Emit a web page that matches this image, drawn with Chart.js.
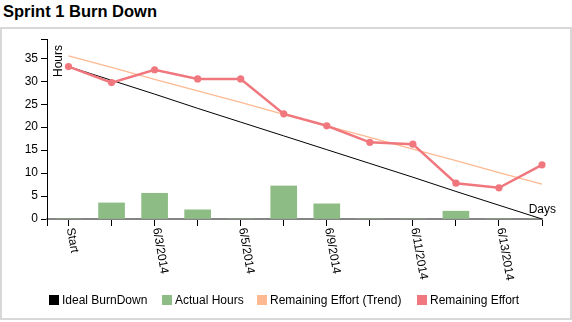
<!DOCTYPE html>
<html>
<head>
<meta charset="utf-8">
<script src="https://cdn.jsdelivr.net/npm/chart.js@4/dist/chart.umd.min.js"></script>
<style>
  body { margin: 0; background: #fff; font-family: "Liberation Sans", Arial, sans-serif; }
  #wrap { position: relative; width: 572px; height: 322px; overflow: hidden; }
  #title { position: absolute; left: 3px; top: 2px; font-size: 16.5px; font-weight: bold; color: #000; }
  #frame { position: absolute; left: 0; top: 27px; width: 572px; height: 293px; box-sizing: border-box; border: 2px solid #d8d8d8; }
  #chart { position: absolute; left: 0; top: 0; }
  #legend { position: absolute; left: 0; top: 0; width: 572px; height: 322px; pointer-events: none; }
  .item { position: absolute; top: 294px; font-size: 12px; line-height: 12px; white-space: nowrap; display: flex; align-items: center; }
  .item i { display: inline-block; width: 10px; height: 10px; margin-right: 3px; }
  .item:nth-child(1) { left: 49px; }
  .item:nth-child(2) { left: 162px; }
  .item:nth-child(3) { left: 257px; }
  .item:nth-child(4) { left: 417px; }
</style>
</head>
<body>
<div id="wrap">
  <div id="title">Sprint 1 Burn Down</div>
  <div id="frame"></div>
  <canvas id="chart" width="572" height="322"></canvas>
  <div id="legend"></div>
</div>
<script>
// 日付（カテゴリ）
const days = ['Start', '6/2/2014', '6/3/2014', '6/4/2014', '6/5/2014', '6/6/2014',
  '6/9/2014', '6/10/2014', '6/11/2014', '6/12/2014', '6/13/2014', '6/16/2014'];

// 各系列の値
const idealBurnDown = [33.2, 30.2, 27.2, 24.1, 21.1, 18.1, 15.1, 12.1, 9.1, 6.0, 3.0, 0];
const actualHours = [0, 3.5, 5.6, 2.0, 0, 7.2, 3.3, 0, 0, 1.7, 0, 0];
const remainingTrend = [35.5, 33.0, 30.4, 27.9, 25.4, 22.8, 20.3, 17.8, 15.2, 12.7, 10.1, 7.6];
const remainingEffort = [33.2, 29.7, 32.5, 30.5, 30.5, 22.9, 20.3, 16.7, 16.3, 7.8, 6.8, 11.8];

// 目盛り
const yTicks = [0, 5, 10, 15, 20, 25, 30, 35];
const yMax = 39.2;

const FONT = '"Liberation Sans", Arial, sans-serif';

function points(values) {
  return values.map((v, i) => ({ x: i, y: v }));
}

const datasets = [
  { type: 'line', label: 'Ideal BurnDown', data: points(idealBurnDown), borderColor: '#000000',
    backgroundColor: '#000000', borderWidth: 1, pointRadius: 0, order: 2, clip: false },
  { type: 'bar', label: 'Actual Hours', data: points(actualHours), backgroundColor: '#8dbc84',
    borderWidth: 0, barThickness: 26, order: 3 },
  { type: 'line', label: 'Remaining Effort (Trend)', data: points(remainingTrend), borderColor: '#fdb992',
    backgroundColor: '#fdb992', borderWidth: 1.3, pointRadius: 0, order: 1, clip: false },
  { type: 'line', label: 'Remaining Effort', data: points(remainingEffort), borderColor: '#ef777d',
    backgroundColor: '#ef777d', borderWidth: 2.5, pointRadius: 3.6, pointBorderWidth: 0, order: 0, clip: false },
];

// 凡例（HTML）
const legendEl = document.getElementById('legend');
datasets.forEach(ds => {
  const item = document.createElement('div');
  item.className = 'item';
  const box = document.createElement('i');
  box.style.background = ds.backgroundColor;
  item.appendChild(box);
  item.appendChild(document.createTextNode(ds.label));
  legendEl.appendChild(item);
});

// 回転したX軸ラベルと軸タイトル
const axisText = {
  id: 'axisText',
  afterDraw(chart) {
    const { ctx, scales: { x, y } } = chart;
    ctx.save();
    ctx.fillStyle = '#000';
    ctx.font = '12px ' + FONT;
    days.forEach((d, i) => {
      if (i % 2 !== 0) return;
      ctx.save();
      ctx.translate(x.getPixelForValue(i), y.getPixelForValue(0));
      ctx.rotate(80 * Math.PI / 180);
      ctx.textAlign = 'left';
      ctx.textBaseline = 'middle';
      ctx.fillText(d, 9, 0);
      ctx.restore();
    });
    // Days
    ctx.textAlign = 'right';
    ctx.textBaseline = 'alphabetic';
    ctx.fillText('Days', 556, y.getPixelForValue(0) - 6);
    // Hours
    ctx.save();
    ctx.translate(61.5, 45);
    ctx.rotate(-Math.PI / 2);
    ctx.textAlign = 'right';
    ctx.fillText('Hours', 0, 0);
    ctx.restore();
    ctx.restore();
  }
};

const ctx = document.getElementById('chart').getContext('2d');
const chart = new Chart(ctx, {
  type: 'line',
  data: { datasets: datasets },
  plugins: [axisText],
  options: {
    responsive: false,
    animation: false,
    events: [],
    layout: { padding: { left: 0, right: 30, top: 39, bottom: 83 } },
    plugins: { legend: { display: false }, tooltip: { enabled: false } },
    scales: {
      x: {
        type: 'linear',
        min: -0.5,
        max: 11,
        offset: false,
        afterBuildTicks: s => { s.ticks = [-0.5].concat(days.map((d, i) => i)).map(v => ({ value: v })); },
        afterFit: s => { s.height = 20; },
        ticks: { autoSkip: false, callback: () => '', maxRotation: 0 },
        grid: { drawOnChartArea: false, drawTicks: true, tickLength: 7, color: '#000', tickWidth: 1, offset: false },
        border: { display: true, color: '#858585', width: 2 },
      },
      y: {
        min: 0,
        max: yMax,
        afterBuildTicks: s => { s.ticks = yTicks.concat([yMax]).map(v => ({ value: v })); },
        afterFit: s => { s.width = 47; },
        ticks: {
          padding: 3,
          color: '#000',
          font: { size: 12, family: FONT },
          callback: v => (yTicks.includes(v) ? String(v) : ''),
        },
        grid: { drawOnChartArea: false, drawTicks: true, tickLength: 6, color: '#000', tickWidth: 1 },
        border: { display: true, color: '#000', width: 1 },
      },
    },
  },
});
</script>
</body>
</html>
